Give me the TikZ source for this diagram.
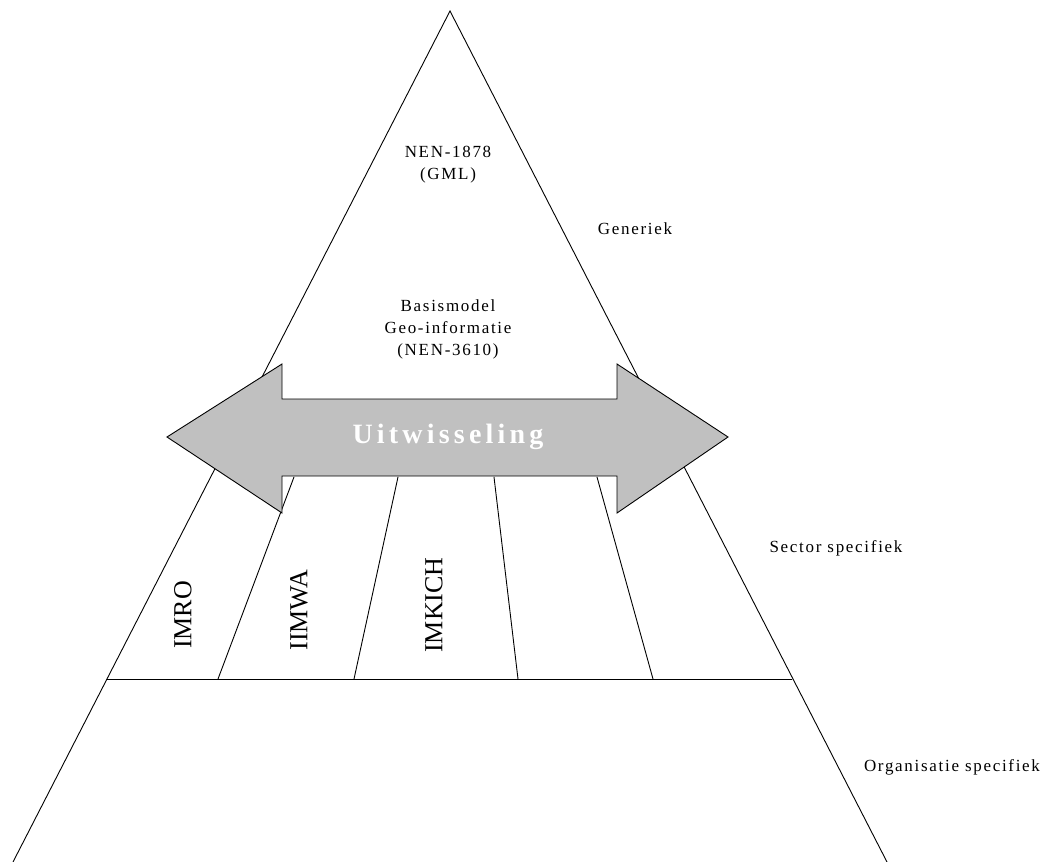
\documentclass[tikz,border=0pt]{standalone}
\usepackage{fontspec}
\setmainfont{Liberation Serif}
\usepackage{xcolor}
\usetikzlibrary{positioning,calc}
\definecolor{arrowgray}{RGB}{192,192,192}

\begin{document}
\begin{tikzpicture}[x=1pt,y=-1pt,
          line cap=round,line join=miter,
          thinline/.style={draw=black,line width=0.9pt},
          lbl/.style={font=\fontsize{17}{22}\selectfont\addfontfeature{LetterSpace=10},align=center,inner sep=0pt},
          model/.style={font=\fontsize{26}{30}\selectfont,rotate=90,inner sep=0pt}]
        \useasboundingbox (0,0) rectangle (1047,862);

        % pyramid
        \coordinate (apex) at (450,11);
        \coordinate (bl) at (13,862);
        \coordinate (br) at (887,862);
        \coordinate (sl) at (107,679);
        \coordinate (sr) at (792,679);
        \draw[thinline] (bl) -- (apex) -- (br);
        \draw[thinline] (sl) -- (sr);

        % sector dividers
        \foreach \a/\b in {294/218,398/354,494/518,597/653}
          \draw[thinline] (\a,477) -- (\b,679);

        % exchange arrow
        \filldraw[fill=arrowgray,draw=black,line width=0.9pt]
          (167,437) -- (282,364) -- (282,399) -- (617,399) -- (617,364) -- (728,437)
          -- (617,513) -- (617,476) -- (282,476) -- (282,513) -- cycle;
        \node[font=\bfseries\fontsize{28}{30}\selectfont\addfontfeature{LetterSpace=15},
              text=white,inner sep=0pt] (uit) at (448,437) {Uitwisseling};

        % labels
        \node[lbl] (gml) at (448,165) {NEN-1878\\(GML)};
        \node[lbl] (nen) at (448,329) {Basismodel\\Geo-informatie\\(NEN-3610)};
        \node[lbl] (gen) at (635,229) {Generiek};
        \node[lbl] (sec) at (836,548) {Sector specifiek};
        \node[lbl] (org) at (952,767) {Organisatie specifiek};

        \node[model] (imro) at (183,615) {IMRO};
        \node[model] (iimwa) at (299,610) {IIMWA};
        \node[model] (imkich) at (434,605) {IMKICH};
      \end{tikzpicture}
\end{document}
